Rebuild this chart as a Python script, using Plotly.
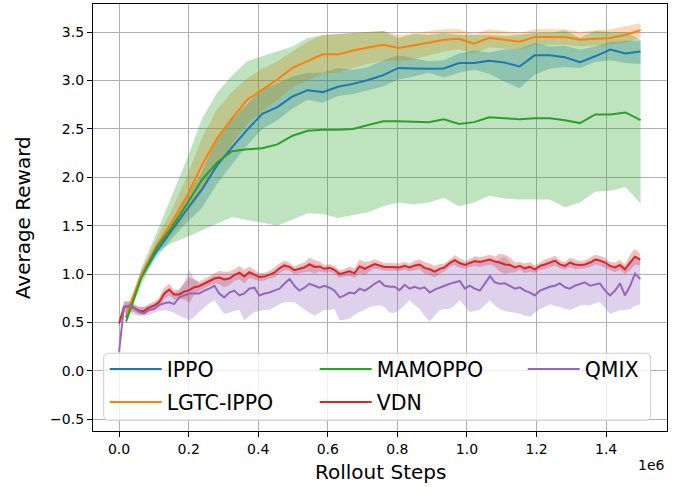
import plotly.graph_objects as go

# ---------------- data ----------------
# coarse evaluation steps (thousands of rollout steps)
coarse_steps_k = [20, 63.5, 107, 150.5, 194, 237.5, 281, 324.5, 368, 411.5,
                  455, 498.5, 542, 585.5, 629, 672.5, 716, 759.5, 803, 846.5,
                  890, 933.5, 977, 1020.5, 1064, 1107.5, 1151, 1194.5, 1238, 1281.5,
                  1325, 1368.5, 1412, 1455.5, 1499]

ippo_mean = [0.55, 0.975, 1.23, 1.45, 1.665, 1.87, 2.12, 2.31, 2.49, 2.655,
             2.725, 2.835, 2.90, 2.88, 2.935, 2.965, 3.005, 3.055, 3.13, 3.125,
             3.12, 3.125, 3.18, 3.18, 3.205, 3.185, 3.145, 3.26, 3.26, 3.24,
             3.19, 3.25, 3.32, 3.28, 3.30]
ippo_lo = [0.53, 0.94, 1.17, 1.36, 1.53, 1.68, 1.93, 2.13, 2.33, 2.50,
           2.59, 2.71, 2.80, 2.77, 2.84, 2.86, 2.90, 2.94, 3.01, 3.04,
           3.08, 3.03, 3.08, 3.11, 3.07, 2.99, 2.92, 3.06, 3.12, 3.14,
           3.13, 3.19, 3.21, 3.18, 3.17]
ippo_hi = [0.57, 1.01, 1.29, 1.55, 1.80, 2.05, 2.40, 2.60, 2.75, 2.91,
           2.97, 3.04, 3.08, 3.08, 3.13, 3.11, 3.14, 3.21, 3.26, 3.23,
           3.20, 3.21, 3.28, 3.31, 3.29, 3.32, 3.33, 3.39, 3.35, 3.36,
           3.32, 3.35, 3.40, 3.41, 3.41]

lgtc_mean = [0.58, 0.99, 1.29, 1.53, 1.80, 2.12, 2.40, 2.61, 2.80, 2.905,
             3.01, 3.13, 3.20, 3.27, 3.27, 3.31, 3.34, 3.37, 3.335, 3.36,
             3.39, 3.42, 3.43, 3.38, 3.44, 3.42, 3.40, 3.45, 3.45, 3.45,
             3.42, 3.43, 3.44, 3.47, 3.52]
lgtc_lo = [0.56, 0.95, 1.22, 1.40, 1.60, 1.85, 2.10, 2.35, 2.55, 2.68,
           2.80, 2.93, 3.00, 3.07, 3.08, 3.13, 3.17, 3.21, 3.20, 3.22,
           3.26, 3.30, 3.32, 3.28, 3.34, 3.33, 3.32, 3.37, 3.37, 3.37,
           3.35, 3.36, 3.37, 3.39, 3.44]
lgtc_hi = [0.60, 1.03, 1.36, 1.66, 2.00, 2.40, 2.70, 2.88, 3.02, 3.12,
           3.20, 3.30, 3.40, 3.47, 3.48, 3.49, 3.50, 3.51, 3.47, 3.49,
           3.51, 3.53, 3.53, 3.48, 3.53, 3.51, 3.49, 3.53, 3.53, 3.53,
           3.50, 3.52, 3.53, 3.56, 3.59]

mamoppo_mean = [0.51, 0.96, 1.27, 1.48, 1.72, 1.97, 2.15, 2.27, 2.29, 2.30,
                2.34, 2.43, 2.48, 2.49, 2.49, 2.50, 2.54, 2.58, 2.58, 2.575,
                2.57, 2.60, 2.55, 2.57, 2.62, 2.61, 2.60, 2.61, 2.61, 2.59,
                2.56, 2.65, 2.65, 2.67, 2.59]
mamoppo_lo = [0.50, 0.88, 1.22, 1.32, 1.38, 1.45, 1.52, 1.59, 1.56, 1.53,
              1.50, 1.565, 1.63, 1.62, 1.58, 1.61, 1.64, 1.70, 1.74, 1.72,
              1.74, 1.79, 1.70, 1.74, 1.81, 1.78, 1.77, 1.77, 1.77, 1.69,
              1.74, 1.85, 1.86, 1.90, 1.73]
mamoppo_hi = [0.53, 1.06, 1.42, 1.80, 2.18, 2.60, 2.87, 3.05, 3.20, 3.25,
              3.30, 3.35, 3.44, 3.47, 3.48, 3.49, 3.50, 3.51, 3.44, 3.48,
              3.47, 3.49, 3.47, 3.47, 3.47, 3.46, 3.47, 3.49, 3.49, 3.52,
              3.44, 3.51, 3.50, 3.50, 3.42]

# dense logging steps (thousands of rollout steps)
dense_steps_k = [0, 14, 29, 43, 58, 72, 86, 101, 115, 130,
                 144, 158, 173, 187, 202, 216, 230, 245, 259, 274,
                 288, 302, 317, 331, 346, 360, 374, 389, 403, 418,
                 432, 446, 461, 475, 490, 504, 518, 533, 547, 562,
                 576, 590, 605, 619, 634, 648, 662, 677, 691, 706,
                 720, 734, 749, 763, 778, 792, 806, 821, 835, 850,
                 864, 878, 893, 907, 922, 936, 950, 965, 979, 994,
                 1008, 1022, 1037, 1051, 1066, 1080, 1094, 1109, 1123, 1138,
                 1152, 1166, 1181, 1195, 1210, 1224, 1238, 1253, 1267, 1282,
                 1296, 1310, 1325, 1339, 1354, 1368, 1382, 1397, 1411, 1426,
                 1440, 1454, 1469, 1483, 1498]

vdn_mean = [0.49, 0.66, 0.67, 0.65, 0.62, 0.62, 0.655, 0.675, 0.71, 0.80,
            0.84, 0.79, 0.79, 0.82, 0.835, 0.865, 0.875, 0.90, 0.925, 0.955,
            0.965, 0.945, 0.955, 0.99, 1.015, 0.975, 1.02, 0.995, 0.97, 0.975,
            0.995, 1.015, 1.06, 1.09, 1.075, 1.04, 1.055, 1.07, 1.10, 1.075,
            1.08, 1.055, 1.065, 1.045, 1.00, 1.015, 1.03, 1.01, 1.08, 1.055,
            1.08, 1.105, 1.09, 1.075, 1.075, 1.075, 1.07, 1.085, 1.07, 1.09,
            1.10, 1.065, 1.05, 1.025, 1.055, 1.07, 1.115, 1.145, 1.115, 1.095,
            1.115, 1.135, 1.125, 1.135, 1.15, 1.13, 1.12, 1.10, 1.095, 1.07,
            1.085, 1.06, 1.075, 1.05, 1.085, 1.10, 1.12, 1.14, 1.10, 1.085,
            1.12, 1.10, 1.095, 1.10, 1.12, 1.15, 1.14, 1.12, 1.085, 1.07,
            1.095, 1.05, 1.12, 1.18, 1.15]
vdn_err = [0.03, 0.05, 0.05, 0.04, 0.04, 0.04, 0.04, 0.04, 0.05, 0.06,
           0.06, 0.05, 0.05, 0.08, 0.13, 0.08, 0.05, 0.05, 0.05, 0.05,
           0.07, 0.08, 0.07, 0.06, 0.07, 0.07, 0.06, 0.05, 0.04, 0.04,
           0.04, 0.05, 0.05, 0.05, 0.04, 0.04, 0.05, 0.05, 0.07, 0.07,
           0.05, 0.04, 0.04, 0.04, 0.04, 0.04, 0.05, 0.05, 0.07, 0.07,
           0.05, 0.05, 0.04, 0.04, 0.04, 0.04, 0.04, 0.04, 0.04, 0.05,
           0.05, 0.06, 0.06, 0.06, 0.05, 0.04, 0.04, 0.05, 0.05, 0.04,
           0.04, 0.05, 0.05, 0.05, 0.05, 0.05, 0.09, 0.10, 0.08, 0.05,
           0.04, 0.05, 0.05, 0.04, 0.04, 0.05, 0.05, 0.05, 0.04, 0.04,
           0.05, 0.05, 0.04, 0.04, 0.05, 0.05, 0.05, 0.05, 0.04, 0.05,
           0.05, 0.05, 0.08, 0.08, 0.06]

qmix_mean = [0.20, 0.665, 0.675, 0.645, 0.61, 0.595, 0.63, 0.64, 0.68, 0.70,
             0.71, 0.69, 0.76, 0.78, 0.80, 0.80, 0.80, 0.83, 0.85, 0.88,
             0.80, 0.76, 0.81, 0.83, 0.78, 0.80, 0.85, 0.86, 0.78, 0.80,
             0.81, 0.83, 0.85, 0.90, 0.95, 0.88, 0.83, 0.86, 0.90, 0.88,
             0.86, 0.88, 0.86, 0.83, 0.76, 0.78, 0.81, 0.80, 0.85, 0.83,
             0.86, 0.90, 0.93, 0.88, 0.87, 0.87, 0.835, 0.89, 0.85, 0.87,
             0.85, 0.864, 0.81, 0.84, 0.864, 0.88, 0.90, 0.915, 0.93, 0.85,
             0.88, 0.85, 0.83, 0.90, 0.98, 0.915, 0.90, 0.905, 0.88, 0.85,
             0.864, 0.83, 0.81, 0.78, 0.83, 0.85, 0.87, 0.88, 0.905, 0.864,
             0.85, 0.88, 0.90, 0.915, 0.88, 0.89, 0.905, 0.83, 0.78, 0.83,
             0.905, 0.78, 0.88, 1.005, 0.95]
qmix_lo = [0.18, 0.60, 0.60, 0.58, 0.57, 0.57, 0.58, 0.60, 0.62, 0.63,
           0.62, 0.60, 0.57, 0.55, 0.52, 0.56, 0.61, 0.66, 0.70, 0.73,
           0.66, 0.59, 0.60, 0.62, 0.63, 0.52, 0.57, 0.61, 0.62, 0.63,
           0.63, 0.66, 0.69, 0.71, 0.71, 0.71, 0.67, 0.63, 0.60, 0.57,
           0.60, 0.63, 0.63, 0.64, 0.52, 0.53, 0.54, 0.58, 0.61, 0.63,
           0.66, 0.67, 0.68, 0.66, 0.60, 0.60, 0.63, 0.68, 0.73, 0.68,
           0.64, 0.57, 0.51, 0.57, 0.63, 0.64, 0.64, 0.68, 0.73, 0.67,
           0.61, 0.62, 0.63, 0.68, 0.73, 0.68, 0.64, 0.62, 0.61, 0.60,
           0.59, 0.57, 0.56, 0.60, 0.64, 0.66, 0.69, 0.67, 0.66, 0.64,
           0.63, 0.65, 0.68, 0.68, 0.68, 0.70, 0.71, 0.65, 0.59, 0.61,
           0.63, 0.63, 0.64, 0.67, 0.69]
qmix_hi = [0.22, 0.72, 0.72, 0.68, 0.66, 0.66, 0.68, 0.70, 0.74, 0.80,
           0.82, 0.80, 0.84, 0.92, 1.04, 0.95, 0.90, 0.92, 0.95, 0.98,
           0.98, 0.96, 0.97, 1.00, 1.02, 0.98, 1.02, 1.00, 0.97, 0.97,
           0.99, 1.01, 1.05, 1.08, 1.09, 1.04, 1.05, 1.07, 1.12, 1.10,
           1.08, 1.05, 1.06, 1.04, 0.99, 1.01, 1.03, 1.01, 1.10, 1.08,
           1.08, 1.10, 1.09, 1.07, 1.07, 1.07, 1.06, 1.08, 1.07, 1.09,
           1.10, 1.06, 1.05, 1.03, 1.05, 1.07, 1.11, 1.14, 1.11, 1.09,
           1.11, 1.13, 1.12, 1.13, 1.15, 1.13, 1.15, 1.18, 1.12, 1.07,
           1.08, 1.06, 1.07, 1.05, 1.08, 1.10, 1.12, 1.13, 1.10, 1.08,
           1.11, 1.10, 1.09, 1.10, 1.12, 1.14, 1.13, 1.11, 1.08, 1.07,
           1.09, 1.05, 1.12, 1.18, 1.15]

x_tick_vals = [0, 0.2e6, 0.4e6, 0.6e6, 0.8e6, 1.0e6, 1.2e6, 1.4e6]
x_tick_text = ["0.0", "0.2", "0.4", "0.6", "0.8", "1.0", "1.2", "1.4"]
y_tick_vals = [-0.5, 0.0, 0.5, 1.0, 1.5, 2.0, 2.5, 3.0, 3.5]
y_tick_text = ["\u22120.5", "0.0", "0.5", "1.0", "1.5", "2.0", "2.5", "3.0", "3.5"]

# ---------------- figure ----------------
coarse_x = [s * 1000 for s in coarse_steps_k]
dense_x = [s * 1000 for s in dense_steps_k]
vdn_lo = [m - e for m, e in zip(vdn_mean, vdn_err)]
vdn_hi = [m + e for m, e in zip(vdn_mean, vdn_err)]

series = [
    ("IPPO", coarse_x, ippo_mean, ippo_lo, ippo_hi, (31, 119, 180), "legend"),
    ("LGTC-IPPO", coarse_x, lgtc_mean, lgtc_lo, lgtc_hi, (255, 127, 14), "legend2"),
    ("MAMOPPO", coarse_x, mamoppo_mean, mamoppo_lo, mamoppo_hi, (44, 160, 44), "legend3"),
    ("VDN", dense_x, vdn_mean, vdn_lo, vdn_hi, (214, 39, 40), "legend4"),
    ("QMIX", dense_x, qmix_mean, qmix_lo, qmix_hi, (148, 103, 189), "legend5"),
]

fig = go.Figure()
for name, x, m, lo, hi, c, lg in series:
    fig.add_trace(go.Scatter(
        x=list(x) + list(x)[::-1], y=list(hi) + list(lo)[::-1],
        fill="toself", fillcolor="rgba(%d,%d,%d,0.3)" % c,
        line=dict(width=0), mode="lines", hoverinfo="skip", showlegend=False))
for name, x, m, lo, hi, c, lg in series:
    fig.add_trace(go.Scatter(
        x=x, y=m, mode="lines", name=name, legend=lg,
        line=dict(color="rgb(%d,%d,%d)" % c, width=2)))

font = "DejaVu Sans, Arial, sans-serif"

def px_x(p):
    return (p - 93.3) / 574.0

def px_y(p):
    return (430.7 - p) / 426.7

leg_common = dict(bgcolor="rgba(0,0,0,0)", borderwidth=0, xanchor="left",
                  yanchor="middle", font=dict(family=font, size=20.5, color="#000"),
                  itemwidth=52)
legends = {
    "legend": (105, 369),
    "legend2": (105, 402),
    "legend3": (315, 369),
    "legend4": (315, 402),
    "legend5": (523, 369),
}
layout_legends = {}
for k, (lx, ly) in legends.items():
    layout_legends[k] = dict(leg_common, x=px_x(lx), y=px_y(ly))

# rounded legend frame
x0, x1 = px_x(104), px_x(651)
y0, y1 = px_y(420), px_y(353)
rx, ry = 5 / 574.0, 5 / 426.7
path = (f"M{x0+rx},{y0} L{x1-rx},{y0} Q{x1},{y0} {x1},{y0+ry} "
        f"L{x1},{y1-ry} Q{x1},{y1} {x1-rx},{y1} L{x0+rx},{y1} "
        f"Q{x0},{y1} {x0},{y1-ry} L{x0},{y0+ry} Q{x0},{y0} {x0+rx},{y0} Z")

fig.update_layout(
    width=686, height=487,
    margin=dict(l=93, r=19, t=4, b=56, autoexpand=False),
    paper_bgcolor="white", plot_bgcolor="white",
    font=dict(family=font, size=14, color="#000"),
    shapes=[dict(type="path", path=path, xref="paper", yref="paper",
                 fillcolor="rgba(255,255,255,0.8)", line=dict(color="#cccccc", width=1),
                 layer="above")],
    annotations=[
        dict(text="1e6", xref="paper", yref="paper", x=1.0, y=px_y(465),
             xanchor="right", yanchor="middle", showarrow=False,
             font=dict(family=font, size=14, color="#000")),
        dict(text="Rollout Steps", xref="paper", yref="paper", x=0.5, y=px_y(472),
             xanchor="center", yanchor="middle", showarrow=False,
             font=dict(family=font, size=20, color="#000")),
        dict(text="Average Reward", xref="paper", yref="paper", x=px_x(23), y=0.5,
             xanchor="center", yanchor="middle", showarrow=False, textangle=-90,
             font=dict(family=font, size=20, color="#000")),
    ],
    **layout_legends,
)
fig.update_xaxes(
    range=[-75000, 1575000], tickvals=x_tick_vals, ticktext=x_tick_text,
    showgrid=True, gridcolor="#b0b0b0", gridwidth=1, zeroline=False,
    showline=True, linecolor="black", linewidth=1.2, mirror=True,
    ticks="outside", ticklen=5, tickwidth=1.2, tickcolor="black",
    tickfont=dict(family=font, size=14, color="#000"), automargin=False,
)
fig.update_yaxes(
    range=[-0.62, 3.79], tickvals=y_tick_vals, ticktext=y_tick_text,
    showgrid=True, gridcolor="#b0b0b0", gridwidth=1, zeroline=False,
    showline=True, linecolor="black", linewidth=1.2, mirror=True,
    ticks="outside", ticklen=5, tickwidth=1.2, tickcolor="black",
    tickfont=dict(family=font, size=14, color="#000"), automargin=False,
)
fig.write_html("out.html", config={"displayModeBar": False},
               post_script="document.body.style.margin='0px';")
